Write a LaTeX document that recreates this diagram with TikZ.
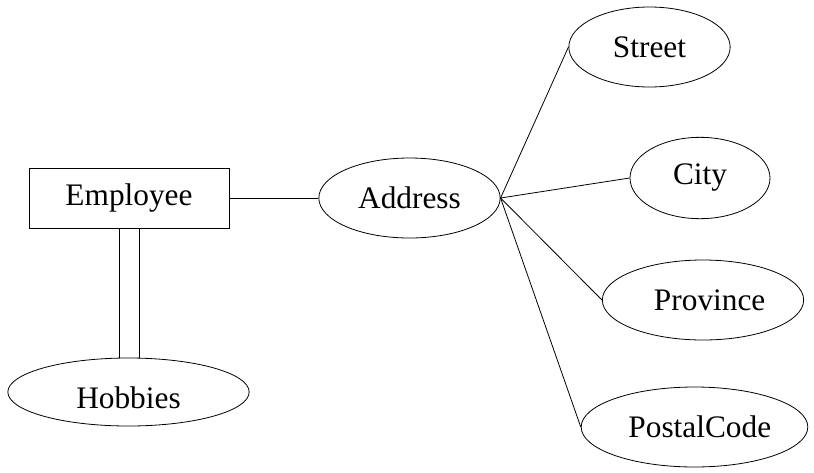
\documentclass[tikz,border=0pt]{standalone}
\usepackage{fontspec}
\setmainfont{Liberation Serif}
\usetikzlibrary{shapes.geometric,positioning}
\tikzset{
  entity/.style={rectangle, draw, minimum width=150pt, minimum height=45pt, inner sep=0pt, font=\fontsize{23.5}{28}\selectfont},
  attr/.style={ellipse, draw, inner sep=0pt, minimum height=60pt, font=\fontsize{23.5}{28}\selectfont},
  link/.style={line width=0.6pt},
}

\begin{document}
\begin{tikzpicture}[x=0.75pt, y=-0.75pt, line width=0.6pt]
\useasboundingbox (0,0) rectangle (814,472);
% --- entity and its multivalued attribute ---
\node[entity] (emp) at (129,198) {Employee};
\node[attr, minimum width=181pt, minimum height=51pt, text height=25pt, text depth=0pt] (hob) at (128.5,392) {Hobbies};
\draw[link] ([xshift=-7.5pt]emp.south) -- ([xshift=-7.5pt]emp.south |- hob.north);
\draw[link] ([xshift=7.5pt]emp.south) -- ([xshift=7.5pt]emp.south |- hob.north);
% --- composite attribute ---
\node[attr, minimum width=136pt] (addr) at (409.5,198) {Address};
\draw[link] (emp.east) -- (addr.west);
% --- components of the address ---
\node[attr, minimum width=121pt] (street) at (649.5,47) {Street};
\node[attr, minimum width=105pt, minimum height=61pt] (city) at (700,178) {City};
\node[attr, minimum width=151pt] (prov) at (703,300) {\hspace{10pt}Province};
\node[attr, minimum width=170pt] (postal) at (694.5,427) {\hspace{8pt}PostalCode};
\draw[link] (addr.east) -- (street.west);
\draw[link] (addr.east) -- (city.west);
\draw[link] (addr.east) -- (prov.west);
\draw[link] (addr.east) -- (postal.west);
\end{tikzpicture}
\end{document}
